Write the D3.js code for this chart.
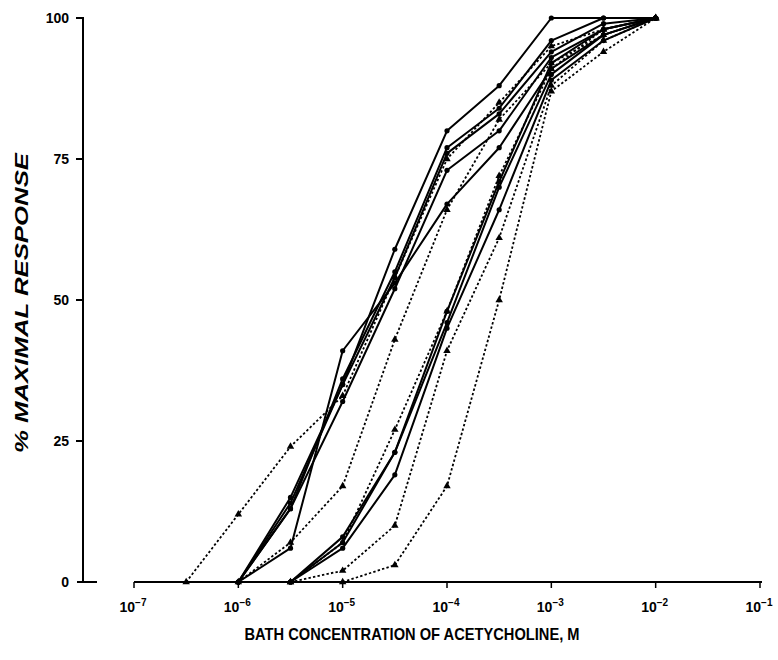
<!DOCTYPE html>
<html><head><meta charset="utf-8">
<script src="https://cdn.jsdelivr.net/npm/d3@7"></script>
<style>body{margin:0;background:#fff}svg{display:block}</style>
</head><body>
<svg id="c" width="778" height="660"></svg>
<script>
// log10 of bath concentration (M) for each dose step
const doseExp = [-6.5, -6, -5.5, -5, -4.5, -4, -3.5, -3, -2.5, -2];
const xTickExp = [-7, -6, -5, -4, -3, -2, -1];
const yTicks = [0, 25, 50, 75, 100];

// solid curves (first value at doseExp index given by start)
const solidA = {start: 1, values: [0, 6, 41, 53, 67, 77, 91, 97, 100]};
const solidB = {start: 1, values: [0, 14, 35, 59, 80, 88, 100, 100, 100]};
const solidC = {start: 1, values: [0, 13, 36, 55, 77, 84, 96, 100, 100]};
const solidD = {start: 1, values: [0, 15, 35, 54, 76, 83, 94, 99, 100]};
const solidE = {start: 1, values: [0, 13, 32, 52, 73, 80, 93, 98, 100]};
const solidR1 = {start: 2, values: [0, 8, 23, 48, 71, 92, 98, 100]};
const solidR2 = {start: 2, values: [0, 7, 23, 46, 70, 90, 97, 100]};
const solidR3 = {start: 2, values: [0, 6, 19, 45, 66, 89, 96, 100]};

// dashed curves
const dashL1 = {start: 0, values: [0, 12, 24, 33, 54, 75, 85, 95, 98, 100]};
const dashL2 = {start: 1, values: [0, 7, 17, 43, 66, 82, 92, 97, 100]};
const dashR1 = {start: 2, values: [0, 7, 27, 48, 72, 91, 98, 100]};
const dashR2 = {start: 2, values: [0, 2, 10, 41, 61, 88, 96, 100]};
const dashR3 = {start: 3, values: [0, 3, 17, 50, 87, 94, 100]};

const solidSeries = [solidA, solidB, solidC, solidD, solidE, solidR1, solidR2, solidR3];
const dashedSeries = [dashL1, dashL2, dashR1, dashR2, dashR3];

const svg = d3.select("#c");
const x = d3.scaleLog().domain([1e-7, 1e-1]).range([134, 760]);
const y = d3.scaleLinear().domain([0, 100]).range([582, 18]);
const FONT = "Liberation Sans, Arial, sans-serif";

function pts(s) {
  return s.values.map((v, i) => [Math.pow(10, doseExp[s.start + i]), v]);
}
const line = d3.line().x(d => x(d[0])).y(d => y(d[1]));

// Y axis
const yAxisX = 83;
svg.append("line").attr("x1", yAxisX).attr("x2", yAxisX).attr("y1", y(100) - 1).attr("y2", y(0))
  .attr("stroke", "#000").attr("stroke-width", 2);
yTicks.forEach(t => {
  if (t === 0) {
    svg.append("line").attr("x1", yAxisX - 6).attr("x2", yAxisX + 14).attr("y1", y(0)).attr("y2", y(0))
      .attr("stroke", "#000").attr("stroke-width", 2);
  } else {
    svg.append("line").attr("x1", yAxisX - 7).attr("x2", yAxisX).attr("y1", y(t)).attr("y2", y(t))
      .attr("stroke", "#000").attr("stroke-width", 2);
  }
  svg.append("text").attr("x", yAxisX - 14).attr("y", y(t) + 5).attr("text-anchor", "end")
    .attr("font-family", FONT).attr("font-weight", "bold")
    .attr("font-size", 14).text(t);
});

// X axis
svg.append("line").attr("x1", x(1e-7)).attr("x2", x(1e-1) + 2).attr("y1", y(0)).attr("y2", y(0))
  .attr("stroke", "#000").attr("stroke-width", 2);
xTickExp.forEach(e => {
  const xx = x(Math.pow(10, e));
  svg.append("line").attr("x1", xx).attr("x2", xx).attr("y1", y(0)).attr("y2", y(0) + 6)
    .attr("stroke", "#000").attr("stroke-width", 1.5);
  const t = svg.append("text").attr("x", xx - 1).attr("y", 612).attr("text-anchor", "middle")
    .attr("font-family", FONT).attr("font-size", 14).attr("font-weight", "bold");
  t.append("tspan").text("10");
  t.append("tspan").attr("dy", -6).attr("font-size", 10).text("\u2212" + Math.abs(e));
});

// curves
solidSeries.forEach(s => {
  const p = pts(s);
  svg.append("path").attr("d", line(p)).attr("fill", "none").attr("stroke", "#000")
    .attr("stroke-width", 2).attr("stroke-linejoin", "round");
  svg.selectAll(null).data(p).enter().append("circle")
    .attr("cx", d => x(d[0])).attr("cy", d => y(d[1])).attr("r", 2.6).attr("fill", "#000");
});
const tri = d3.symbol().type(d3.symbolTriangle).size(24);
dashedSeries.forEach(s => {
  const p = pts(s);
  svg.append("path").attr("d", line(p)).attr("fill", "none").attr("stroke", "#000")
    .attr("stroke-width", 1.8).attr("stroke-dasharray", "2.4,2.2");
  svg.selectAll(null).data(p).enter().append("path").attr("d", tri)
    .attr("transform", d => `translate(${x(d[0])},${y(d[1])})`).attr("fill", "#000");
});

// titles
svg.append("text").attr("x", 412).attr("y", 640).attr("text-anchor", "middle")
  .attr("font-family", FONT).attr("font-size", 17).attr("font-weight", "bold")
  .attr("textLength", 335).attr("lengthAdjust", "spacingAndGlyphs")
  .text("BATH CONCENTRATION OF ACETYCHOLINE, M");
svg.append("text").attr("transform", "translate(28,303) rotate(-90)").attr("text-anchor", "middle")
  .attr("font-family", FONT).attr("font-size", 18)
  .attr("textLength", 300).attr("lengthAdjust", "spacingAndGlyphs")
  .attr("font-weight", "bold").attr("font-style", "italic").text("% MAXIMAL RESPONSE");
</script>
</body></html>
